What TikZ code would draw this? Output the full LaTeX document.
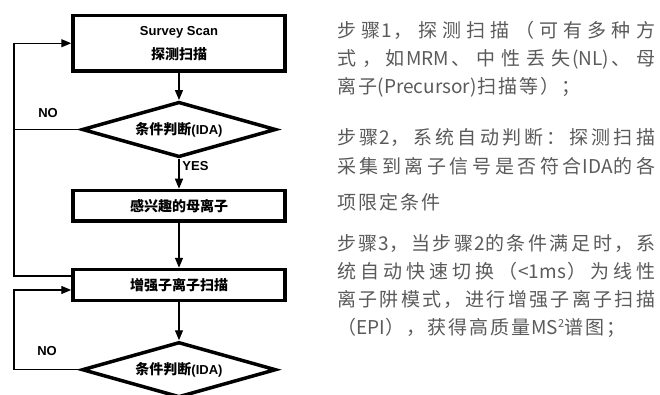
\documentclass[tikz,border=0pt]{standalone}
\usepackage{fontspec}
\setmainfont{Liberation Sans}
\newfontfamily\cjk{Noto Sans CJK SC}
\usetikzlibrary{arrows.meta,shapes.geometric}
\definecolor{txtgray}{HTML}{5A5A5A}
% inter-character glue for CJK justification
\XeTeXinterchartokenstate=1
\newcount\cjkc
\cjkc="3000 \loop \XeTeXcharclass\cjkc=1 \advance\cjkc by 1 \ifnum\cjkc<"3040 \repeat
\cjkc="4E00 \loop \XeTeXcharclass\cjkc=1 \advance\cjkc by 1 \ifnum\cjkc<"A000 \repeat
\cjkc="FF00 \loop \XeTeXcharclass\cjkc=1 \advance\cjkc by 1 \ifnum\cjkc<"FF61 \repeat
\def\cjkglue{}
\def\mixglue{}
\XeTeXinterchartoks 0 1 = {\mixglue}
\XeTeXinterchartoks 1 0 = {\mixglue}
\XeTeXinterchartoks 1 1 = {\cjkglue}
\newcommand\justl[1]{\makebox[318pt][s]{\def\cjkglue{\hskip 2pt plus 1fil}\def\mixglue{\hskip 0.5pt plus 0.3fil}#1}}
\newcommand\natl[1]{\mbox{\def\cjkglue{\hskip 2pt}\def\mixglue{\hskip 0.5pt}#1}}
\begin{document}
\begin{tikzpicture}[x=1pt,y=-1pt,
  box/.style={draw, line width=3.5, minimum width=212, inner sep=0, align=center,
    font=\bfseries\fontsize{14}{24}\selectfont},
  dia/.style={diamond, draw, line width=3.5, minimum width=194, minimum height=55.4,
    aspect=3.5, inner sep=0, font=\bfseries\fontsize{14}{16}\selectfont},
  arr/.style={line width=1.3, -{Triangle[length=10pt,width=8pt]}},
  ln/.style={line width=1.3},
  lab/.style={inner sep=0, font=\bfseries\fontsize{13}{13}\selectfont},
  txt/.style={inner sep=0, anchor=base west, text=txtgray,
    font=\cjk\fontsize{19}{19}\selectfont}]
\useasboundingbox (0,0) rectangle (660,395);

% flowchart
\node[box, minimum height=55.5] (b1) at (179,43.25)
  {{\fontsize{13}{24}\selectfont Survey Scan}\\{\cjk 探测扫描}};
\node[dia] (d1) at (179,129.5) {{\cjk 条件判断}\fontsize{13}{16}\selectfont(IDA)};
\node[box, minimum height=30.5] (b2) at (179,205.75) {\cjk 感兴趣的母离子};
\node[box, minimum height=31] (b3) at (179,285) {\cjk 增强子离子扫描};
\node[dia] (d2) at (179,369.7) {{\cjk 条件判断}\fontsize{13}{16}\selectfont(IDA)};

\coordinate (lx) at (14,0);
\coordinate (b3out) at ([yshift=9]b3.west);
\coordinate (b3in) at ([yshift=-5]b3.west);

\draw[arr] (b1) -- (d1);
\draw[arr] (d1) -- (b2);
\draw[arr] (b2) -- (b3);
\draw[arr] (b3) -- (d2);
\draw[arr] (b3out) -| (lx |- b1.west) -- (b1.west);
\draw[ln] (d1.west) -- (lx |- d1.west);
\draw[arr] (d2.west) -| (lx |- b3in) -- (b3in);

\node[lab] (no1) at (48,113) {NO};
\node[lab] (yes) at (195.5,166) {YES};
\node[lab] (no2) at (47,351) {NO};

% right-hand text
\node[txt] (p1a) at (337,38) {\justl{步骤1，探测扫描（可有多种方}};
\node[txt] (p1b) at (337,66) {\justl{式， 如MRM、中性丢失(NL)、母}};
\node[txt] (p1c) at (337,94) {\natl{离子(Precursor)扫描等）；}};
\node[txt] (p2a) at (337,145) {\justl{步骤2，系统自动判断：探测扫描}};
\node[txt] (p2b) at (337,174) {\justl{采集到离子信号是否符合IDA的各}};
\node[txt] (p2c) at (337,210) {\natl{项限定条件}};
\node[txt] (p3a) at (337,250) {\justl{步骤3，当步骤2的条件满足时，系}};
\node[txt] (p3b) at (337,278) {\justl{统自动快速切换（<1ms）为线性}};
\node[txt] (p3c) at (337,306) {\justl{离子阱模式，进行增强子离子扫描}};
\node[txt] (p3d) at (337,334) {\natl{（EPI），获得高质量MS\raisebox{7pt}{\fontsize{11}{11}\selectfont 2}谱图；}};
\end{tikzpicture}
\end{document}
